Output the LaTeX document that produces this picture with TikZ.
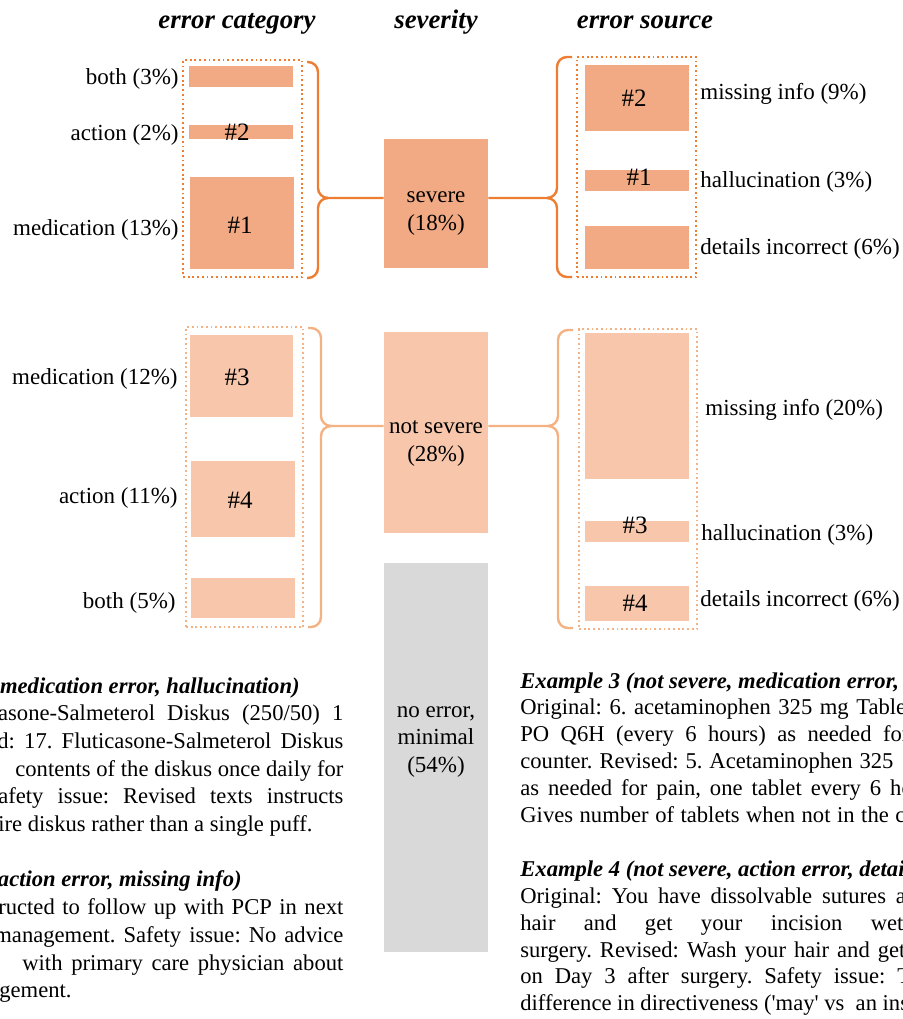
\documentclass[tikz,border=0pt]{standalone}
\usepackage{fontspec}
\setmainfont{Liberation Serif}
\usetikzlibrary{fit}

\definecolor{sevfill}{HTML}{F2AA84}
\definecolor{nsevfill}{HTML}{F7C6AB}
\definecolor{noerrfill}{HTML}{D9D9D9}
\definecolor{sevline}{HTML}{ED7D31}
\definecolor{nsevline}{HTML}{F4B183}

\tikzset{
  coltitle/.style={font=\fontsize{13.4}{16}\selectfont\bfseries\itshape, anchor=base, inner sep=0pt},
  lbl/.style={font=\fontsize{11.5}{14}\selectfont, inner sep=0pt, yshift=-1.5pt},
  num/.style={font=\fontsize{12.5}{15}\selectfont, inner sep=0pt},
  sevbar/.style={fill=sevfill, inner sep=0pt},
  nsevbar/.style={fill=nsevfill, inner sep=0pt},
  noerrbar/.style={fill=noerrfill, inner sep=0pt},
  sevgroup/.style={draw=sevline, line width=1pt, dash pattern=on 0.9pt off 1.45pt, inner sep=0pt},
  nsevgroup/.style={sevgroup, draw=nsevline},
  curly/.style={line width=1.2pt, rounded corners=5pt},
  body/.style={font=\fontsize{11.3}{13.5}\selectfont, inner sep=0pt, anchor=base west},
  bodyhead/.style={body, font=\fontsize{11.3}{13.5}\selectfont\bfseries\itshape},
}

\begin{document}
\frenchspacing
\begin{tikzpicture}[x=0.5pt, y=-0.5pt]
  \useasboundingbox (0,0) rectangle (903,1019);
  \clip (0,0) rectangle (903,1019);

  % column titles
  \node[coltitle] (tcat) at (237,28) {error category};
  \node[coltitle] (tsev) at (436,28) {severity};
  \node[coltitle] (tsrc) at (645,28) {error source};

  % severity column
  \node[sevbar, fit={(384,139) (488,268)}] (severe) {};
  \node[nsevbar, fit={(384,332) (488,533)}] (nsevere) {};
  \node[noerrbar, fit={(384,563) (488,952)}] (noerr) {};
  \node[lbl, align=center] (severetxt) at (436,211) {severe\\(18\%)};
  \node[lbl, align=center] (nseveretxt) at (436,440) {not severe\\(28\%)};
  \node[lbl, align=center, font=\fontsize{11.5}{13.6}\selectfont] (noerrtxt) at (436,739) {no error,\\minimal\\(54\%)};

  % severe: error category
  \node[sevgroup, fit={(183,60) (302,277)}] (sevcat) {};
  \node[sevbar, fit={(189,66) (293,87)}] (sboth) {};
  \node[sevbar, fit={(189,125) (293,139)}] (saction) {};
  \node[sevbar, fit={(190,177) (294,269)}] (smed) {};
  \node[num] (ex2a) at (237,132) {\#2};
  \node[num] (ex1a) at (240,225) {\#1};
  \node[lbl, anchor=east] (lsboth) at (179,76) {both (3\%)};
  \node[lbl, anchor=east] (lsaction) at (179,132) {action (2\%)};
  \node[lbl, anchor=east] (lsmed) at (179,227) {medication (13\%)};

  % severe: error source
  \node[sevgroup, fit={(577,57) (696,277)}] (sevsrc) {};
  \node[sevbar, fit={(585,65) (689,131)}] (smiss) {};
  \node[sevbar, fit={(585,170) (689,191)}] (shal) {};
  \node[sevbar, fit={(585,226) (689,269)}] (sdet) {};
  \node[num] (ex2b) at (634,98) {\#2};
  \node[num] (ex1b) at (639,177) {\#1};
  \node[lbl, anchor=west] (lsmiss) at (700,91) {missing info (9\%)};
  \node[lbl, anchor=west] (lshal) at (700,179) {hallucination (3\%)};
  \node[lbl, anchor=west] (lsdet) at (700,246) {details incorrect (6\%)};

  % not severe: error category
  \node[nsevgroup, fit={(186,327) (303,627)}] (nsevcat) {};
  \node[nsevbar, fit={(190,335) (293,417)}] (nmed) {};
  \node[nsevbar, fit={(191,461) (295,537)}] (naction) {};
  \node[nsevbar, fit={(191,578) (295,618)}] (nboth) {};
  \node[num] (ex3a) at (237,377) {\#3};
  \node[num] (ex4a) at (240,500) {\#4};
  \node[lbl, anchor=east] (lnmed) at (178,376) {medication (12\%)};
  \node[lbl, anchor=east] (lnaction) at (178,495) {action (11\%)};
  \node[lbl, anchor=east] (lnboth) at (176,600) {both (5\%)};

  % not severe: error source
  \node[nsevgroup, fit={(579,329) (697,629)}] (nsevsrc) {};
  \node[nsevbar, fit={(585,333) (689,479)}] (nmiss) {};
  \node[nsevbar, fit={(585,521) (689,542)}] (nhal) {};
  \node[nsevbar, fit={(585,586) (689,621)}] (ndet) {};
  \node[num] (ex3b) at (635,525) {\#3};
  \node[num] (ex4b) at (635,603) {\#4};
  \node[lbl, anchor=west] (lnmiss) at (705,407) {missing info (20\%)};
  \node[lbl, anchor=west] (lnhal) at (701,532) {hallucination (3\%)};
  \node[lbl, anchor=west] (lndet) at (700,598) {details incorrect (6\%)};

  % braces and links
  \coordinate (sevL) at (318,198);
  \coordinate (sevR) at (557,198);
  \coordinate (nsevL) at (321,426);
  \coordinate (nsevR) at (558,426);
  \draw[curly, sevline] (307,62) -- (318,62) -- (sevL) -- (severe.west |- sevL);
  \draw[curly, sevline] (307,278) -- (318,278) -- (sevL) -- ++(10,0);
  \draw[curly, sevline] (severe.east |- sevR) -- (sevR) -- (557,57) -- (572,57);
  \draw[curly, sevline] ([xshift=-5pt]sevR) -- (sevR) -- (557,277) -- (572,277);
  \draw[curly, nsevline] (308,328) -- (321,328) -- (nsevL) -- (nsevere.west |- nsevL);
  \draw[curly, nsevline] (308,627) -- (321,627) -- (nsevL) -- ++(10,0);
  \draw[curly, nsevline] (nsevere.east |- nsevR) -- (nsevR) -- (558,330) -- (573,330);
  \draw[curly, nsevline] ([xshift=-5pt]nsevR) -- (nsevR) -- (558,628) -- (573,628);

  % examples 1 and 2
  \node[bodyhead, anchor=base east] (h1) at (300,693) {Example 1 (severe, medication error, hallucination)};
  \node[body] (l1) at (-55,720.7) {\makebox[199pt][s]{Fluticasone-Salmeterol Diskus (250/50) 1}};
  \node[body] (l2) at (-64.5,748.4) {\makebox[203.75pt][s]{Revised: 17. Fluticasone-Salmeterol Diskus}};
  \node[body] (l3) at (15,776.1) {\makebox[164pt][s]{contents of the diskus once daily for}};
  \node[body] (l4) at (-14.6,803.8) {\makebox[178.8pt][s]{Safety issue: Revised texts instructs}};
  \node[body] (l5) at (-29.6,831.5) {entire diskus rather than a single puff.};
  \node[bodyhead, anchor=base east] (h2) at (242,886.9) {Example 2 (severe, action error, missing info)};
  \node[body] (l6) at (-34.7,914.6) {\makebox[188.85pt][s]{instructed to follow up with PCP in next}};
  \node[body] (l7) at (-6,942.3) {\makebox[174.5pt][s]{management. Safety issue: No advice}};
  \node[body] (l8) at (22,970) {\makebox[160.5pt][s]{with primary care physician about}};
  \node[body] (l9) at (-50,997.7) {management.};

  % examples 3 and 4
  \node[bodyhead] (h3) at (520,688) {Example 3 (not severe, medication error, hallucination)};
  \node[body] (r1) at (520,714.9) {\makebox[196pt][s]{Original: 6. acetaminophen 325 mg Tablet}};
  \node[body] (r2) at (520,741.8) {\makebox[194.5pt][s]{PO Q6H (every 6 hours) as needed for}};
  \node[body] (r3) at (520,768.7) {\makebox[186.5pt][s]{counter. Revised: 5. Acetaminophen 325}};
  \node[body] (r4) at (520,795.6) {\makebox[210pt][s]{as needed for pain, one tablet every 6 hours}};
  \node[body] (r5) at (520,822.5) {\makebox[192.5pt][s]{Gives number of tablets when not in the c}};
  \node[bodyhead] (h4) at (520,876.3) {Example 4 (not severe, action error, details incorrect)};
  \node[body] (r6) at (520,903.2) {\makebox[204pt][s]{Original: You have dissolvable sutures and}};
  \node[body] (r7) at (520,930.1) {\makebox[191.5pt][s]{hair and get your incision wet}};
  \node[body] (r8) at (520,957) {\makebox[192.5pt][s]{surgery. Revised: Wash your hair and get}};
  \node[body] (r9) at (520,983.9) {\makebox[206pt][s]{on Day 3 after surgery. Safety issue: The}};
  \node[body] (r10) at (520,1010.8) {difference in directiveness (\textquotesingle may\textquotesingle{} vs\ \ an instruction)};
\end{tikzpicture}
\end{document}
